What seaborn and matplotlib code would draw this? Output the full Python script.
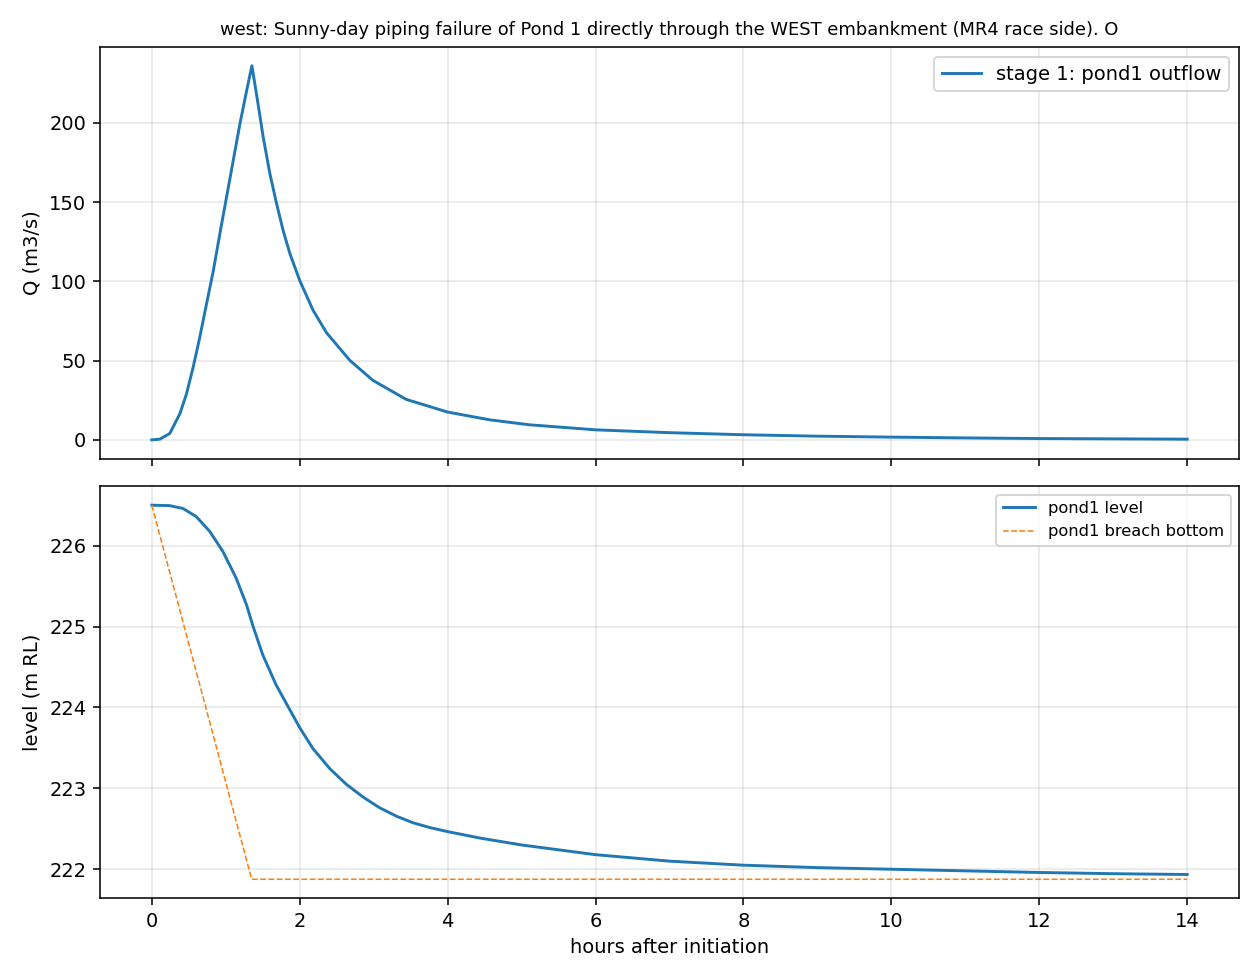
import numpy as np
import pandas as pd
import seaborn as sns
import matplotlib
matplotlib.use("Agg")
import matplotlib.pyplot as plt

# --- values ---
q_hours = [0.0, 0.108, 0.243, 0.379, 0.469, 0.559, 0.649, 0.740, 0.829, 0.920,
           1.010, 1.100, 1.190, 1.281, 1.353, 1.416, 1.506, 1.596, 1.687,
           1.776, 1.867, 2.0, 2.182, 2.363, 2.68, 2.99, 3.44, 4.0, 4.57, 5.1,
           6.0, 7.0, 8.0, 9.0, 10.0, 11.0, 12.0, 13.0, 14.0]
q_outflow = [0.0, 0.4, 4.0, 16.4, 29.0, 45.8, 64.8, 85.8, 106.0, 130.0, 153.0,
             176.0, 199.0, 220.0, 236.0, 218.0, 191.0, 168.0, 149.0, 132.0,
             117.5, 100.5, 81.6, 67.5, 50.0, 37.5, 25.5, 17.5, 12.6, 9.5, 6.3,
             4.5, 3.2, 2.3, 1.7, 1.2, 0.8, 0.6, 0.4]

lvl_hours = [0.0, 0.24, 0.42, 0.60, 0.78, 0.96, 1.14, 1.28, 1.37, 1.50, 1.68,
             1.867, 2.0, 2.18, 2.41, 2.63, 2.86, 3.08, 3.31, 3.53, 3.76, 4.0,
             4.44, 5.0, 6.0, 7.0, 8.0, 9.0, 10.0, 11.0, 12.0, 13.0, 14.0]
pond_level = [226.50, 226.495, 226.46, 226.36, 226.18, 225.93, 225.60, 225.27,
              225.00, 224.65, 224.28, 223.97, 223.75, 223.49, 223.24, 223.05,
              222.89, 222.76, 222.655, 222.575, 222.515, 222.465, 222.385,
              222.30, 222.18, 222.10, 222.05, 222.02, 222.00, 221.98, 221.96,
              221.945, 221.935]

breach_hours = [0.0, 1.35, 14.0]
breach_bottom = [226.50, 221.876, 221.876]

title = ("west: Sunny-day piping failure of Pond 1 directly through the WEST "
         "embankment (MR4 race side). O")

df_q = pd.DataFrame({"hours": q_hours, "Q": q_outflow})
df_lvl = pd.DataFrame({"hours": lvl_hours, "level": pond_level})
df_br = pd.DataFrame({"hours": breach_hours, "level": breach_bottom})

fig, (ax1, ax2) = plt.subplots(2, 1, figsize=(9, 7), dpi=140, sharex=True)
fig.subplots_adjust(left=0.0794, right=0.9833, top=0.952, bottom=0.0837, hspace=0.068)

# top: outflow hydrograph
sns.lineplot(data=df_q, x="hours", y="Q", ax=ax1, color="#1f77b4", lw=1.5,
             label="stage 1: pond1 outflow", errorbar=None)
ax1.set_ylabel("Q (m3/s)")
ax1.set_xlabel("")
ax1.set_title(title, fontsize=9.2)
ax1.grid(True, alpha=0.3)
ax1.legend(loc="upper right")

# bottom: pond level and breach invert
sns.lineplot(data=df_lvl, x="hours", y="level", ax=ax2, color="#1f77b4", lw=1.5,
             label="pond1 level", errorbar=None)
sns.lineplot(data=df_br, x="hours", y="level", ax=ax2, color="#ff7f0e", lw=0.8,
             linestyle="--", label="pond1 breach bottom", errorbar=None)
ax2.set_ylabel("level (m RL)")
ax2.set_xlabel("hours after initiation")
ax2.grid(True, alpha=0.3)
ax2.legend(loc="upper right", fontsize="small")
ax2.set_xticks([0, 2, 4, 6, 8, 10, 12, 14])

fig.savefig("out.png", dpi=140)
